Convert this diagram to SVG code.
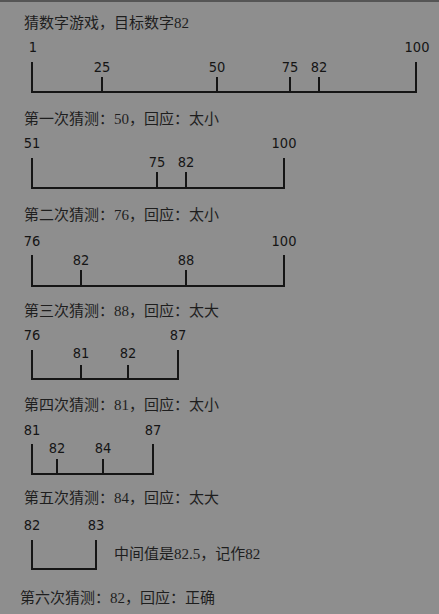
<svg xmlns="http://www.w3.org/2000/svg" width="439" height="614" viewBox="0 0 439 614">
<style>
.t{font-family:"Liberation Serif","Noto Sans CJK SC",serif;font-size:15px;fill:#1e1e1e}
.n{font-family:"Liberation Sans Narrow","DejaVu Sans Condensed","Liberation Sans",sans-serif;font-stretch:condensed;font-size:14.5px;fill:#151515;text-anchor:middle}
.l{stroke:#151515;stroke-width:2;fill:none}
</style>
<rect width="439" height="614" fill="#8e8e8e"/>
<rect width="439" height="2" fill="#555"/>

<g id="step0">
<text class="t" x="24" y="28">猜数字游戏，目标数字82</text>
<text class="n" x="33" y="52">1</text>
<text class="n" x="417" y="52">100</text>
<text class="n" x="102" y="72">25</text>
<text class="n" x="217" y="72">50</text>
<text class="n" x="290" y="72">75</text>
<text class="n" x="319" y="72">82</text>
</g>
<g id="step1">
<text class="t" x="24" y="124">第一次猜测：50，回应：太小</text>
<text class="n" x="32" y="148">51</text>
<text class="n" x="284" y="148">100</text>
<text class="n" x="157" y="167">75</text>
<text class="n" x="186" y="167">82</text>
</g>
<g id="step2">
<text class="t" x="24" y="220">第二次猜测：76，回应：太小</text>
<text class="n" x="32" y="246">76</text>
<text class="n" x="284" y="246">100</text>
<text class="n" x="81" y="265">82</text>
<text class="n" x="186" y="265">88</text>
</g>
<g id="step3">
<text class="t" x="24" y="316">第三次猜测：88，回应：太大</text>
<text class="n" x="32" y="340">76</text>
<text class="n" x="178" y="340">87</text>
<text class="n" x="81" y="358">81</text>
<text class="n" x="128" y="358">82</text>
</g>
<g id="step4">
<text class="t" x="24" y="410">第四次猜测：81，回应：太小</text>
<text class="n" x="32" y="435">81</text>
<text class="n" x="153" y="435">87</text>
<text class="n" x="57" y="453">82</text>
<text class="n" x="103" y="453">84</text>
</g>
<g id="step5">
<text class="t" x="24" y="503">第五次猜测：84，回应：太大</text>
<text class="n" x="32" y="530">82</text>
<text class="n" x="96" y="530">83</text>
<text class="t" x="114" y="559">中间值是82.5，记作82</text>
</g>
<g id="step6">
<text class="t" x="20" y="603">第六次猜测：82，回应：正确</text>
</g>

<g id="connectors">
<path class="l" d="M32 62V92H416V62M102 77V92M217 77V92M290 77V92M319 77V92"/>
<path class="l" d="M32 158V188H284V158M157 172V188M186 172V188"/>
<path class="l" d="M32 255V286H284V255M81 270V286M186 270V286"/>
<path class="l" d="M32 350V379H178V350M81 365V379M128 365V379"/>
<path class="l" d="M32 444V474H153V444M57 459V474M103 459V474"/>
<path class="l" d="M32 540V569H96V540"/>
</g>
</svg>
